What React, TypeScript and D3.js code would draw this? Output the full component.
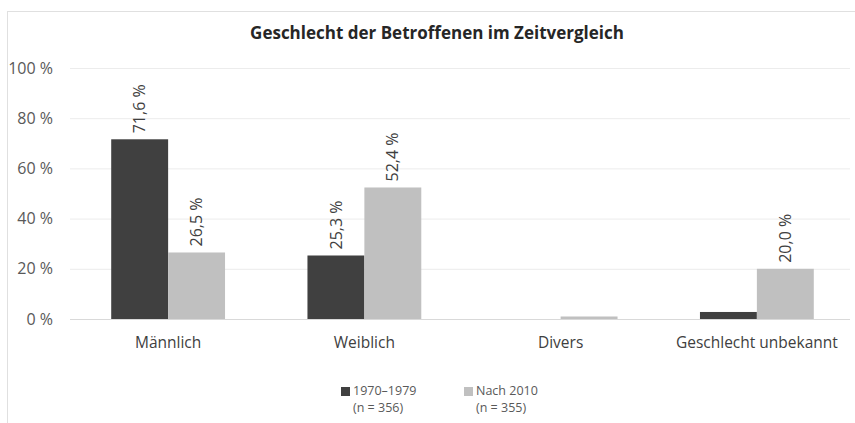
import React from 'react';
import * as d3 from 'd3';

// data
const categories = ['Männlich', 'Weiblich', 'Divers', 'Geschlecht unbekannt'];
const series70s = [71.6, 25.3, 0, 2.8];
const series2010 = [26.5, 52.4, 1.0, 20.0];
const showLabel70s = [true, true, false, false];
const showLabel2010 = [true, true, false, true];
const yTicks = [0, 20, 40, 60, 80, 100];
const seriesNames = ['1970–1979', 'Nach 2010'];
const seriesN = ['(n = 356)', '(n = 355)'];

const W = 855;
const H = 423;
const DARK = '#404040';
const LIGHT = '#c0c0c0';
const FONT = '"Open Sans", "Noto Sans", sans-serif';

const fmt = (v: number) => d3.format('.1f')(v).replace('.', ',') + ' %';

const App = () => {
  const x = d3.scaleBand().domain(categories).range([70, 855]).paddingInner(0.42).paddingOuter(0.21);
  const inner = d3.scaleBand().domain(['a', 'b']).range([0, x.bandwidth()]);
  const y = d3.scaleLinear().domain([0, 100]).range([319, 68]);

  const series = [
    { key: 'a', values: series70s, labels: showLabel70s, color: DARK },
    { key: 'b', values: series2010, labels: showLabel2010, color: LIGHT },
  ];

  return (
    <svg width={W} height={H} style={{ position: 'absolute', left: 0, top: 0, fontFamily: FONT }}>
      <rect x={7.5} y={11.5} width={W} height={H} fill="#fff" stroke="#e0e0e0" />
      <text x={437} y={39} textAnchor="middle" fontSize={17} fontWeight="bold" fill="#262626">
        Geschlecht der Betroffenen im Zeitvergleich
      </text>

      {yTicks.map(t => (
        <g key={t}>
          <line x1={70} x2={850} y1={y(t) + 0.5} y2={y(t) + 0.5} stroke={t === 0 ? '#d9d9d9' : '#ececec'} />
          <text x={53} y={y(t)} dy="0.35em" textAnchor="end" fontSize={16} fill="#595959">
            {t} %
          </text>
        </g>
      ))}

      {categories.map((c, i) => (
        <g key={c} transform={`translate(${x(c)},0)`}>
          {series.map(s => {
            const v = s.values[i];
            const bx = inner(s.key)!;
            return (
              <g key={s.key}>
                <rect x={bx} y={y(v)} width={inner.bandwidth()} height={y(0) - y(v)} fill={s.color} />
                {s.labels[i] && (
                  <text
                    transform={`translate(${bx + inner.bandwidth() / 2},${y(v) - 6}) rotate(-90)`}
                    dy="0.35em"
                    fontSize={16}
                    fill="#404040"
                  >
                    {fmt(v)}
                  </text>
                )}
              </g>
            );
          })}
          <text x={x.bandwidth() / 2} y={343} dy="0.35em" textAnchor="middle" fontSize={15.5} fill="#404040">
            {c}
          </text>
        </g>
      ))}

      {seriesNames.map((n, i) => {
        const lx = 341 + i * 123;
        return (
          <g key={n}>
            <rect x={lx} y={387} width={9} height={9} fill={i === 0 ? DARK : LIGHT} />
            <text x={lx + 12} y={391} dy="0.35em" fontSize={12.5} fill="#595959">{n}</text>
            <text x={lx + 12} y={408} dy="0.35em" fontSize={12.5} fill="#595959">{seriesN[i]}</text>
          </g>
        );
      })}
    </svg>
  );
};

export default App;
